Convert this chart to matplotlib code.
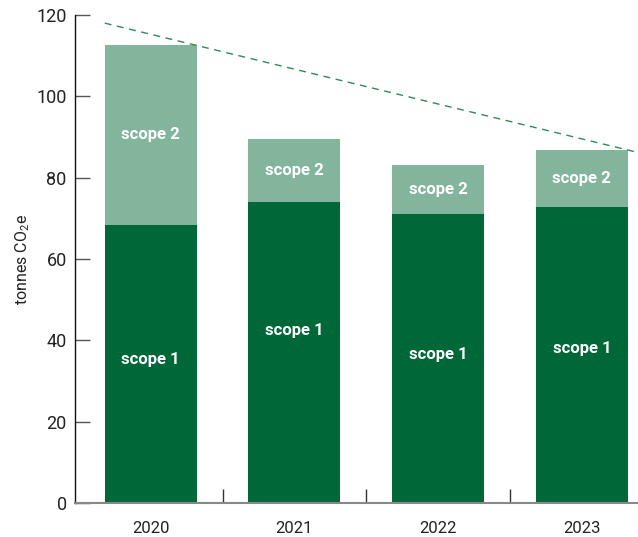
import matplotlib
matplotlib.use("Agg")
import matplotlib.pyplot as plt
import numpy as np

years = ["2020", "2021", "2022", "2023"]
scope1 = [68.4, 74.0, 71.1, 72.8]
scope2_total = [112.6, 89.5, 83.1, 86.8]
scope2 = [t - s for t, s in zip(scope2_total, scope1)]
trend_x = [-0.32, 3.39]
trend_y = [118.0, 86.2]
yticks = [0, 20, 40, 60, 80, 100, 120]

# label placement (layout, in data units)
scope1_label_y = [35.2, 42.5, 36.4, 38.1]

plt.rcParams['font.family'] = ['Roboto', 'DejaVu Sans']
plt.rcParams['mathtext.fontset'] = 'custom'
plt.rcParams['mathtext.rm'] = 'Roboto'
plt.rcParams['mathtext.it'] = 'Roboto'

dark = '#006838'
light = '#82b59b'

fig = plt.figure(figsize=(6.38, 5.37), dpi=100)
W, H = 638, 537
ax = fig.add_axes([75 / W, (H - 503) / H, (638 - 75) / W, (503 - 15) / H])

x = np.arange(len(years))
w = 0.64
ax.bar(x, scope1, width=w, color=dark, zorder=2)
ax.bar(x, scope2, bottom=scope1, width=w, color=light, zorder=2)

for xi, s1, s2, ly in zip(x, scope1, scope2, scope1_label_y):
    ax.text(xi, ly, "scope 1", ha='center', va='center', color='white',
            fontsize=12, fontweight='bold', zorder=3)
    ax.text(xi, s1 + s2 / 2, "scope 2", ha='center', va='center', color='white',
            fontsize=12, fontweight='bold', zorder=3)

ax.plot(trend_x, trend_y, color='#2e8b57', lw=1, linestyle=(0, (5, 4)), zorder=3)

ax.set_xlim(-0.527, 3.391)
ax.set_ylim(0, 120)
ax.set_yticks(yticks)
ax.set_xticks(x)
ax.set_xticklabels(years)
ax.set_xticks([0.5, 1.5, 2.5], minor=True)
ax.tick_params(axis='x', which='major', length=0, pad=13, labelsize=12, colors='#222222')
ax.tick_params(axis='x', which='minor', length=10, direction='in', width=1, color='#333333')
ax.tick_params(axis='y', direction='in', length=11, width=1, color='#555555', pad=6,
               labelsize=13, labelcolor='#222222')

for s in ['top', 'right']:
    ax.spines[s].set_visible(False)
ax.spines['left'].set_color('#111111')
ax.spines['left'].set_linewidth(1)
ax.spines['bottom'].set_color('#888888')
ax.spines['bottom'].set_linewidth(1.5)

ax.set_ylabel("tonnes CO$_2$e", fontsize=11.5, color='#222222', labelpad=3)

fig.savefig("out.png", dpi=100)
